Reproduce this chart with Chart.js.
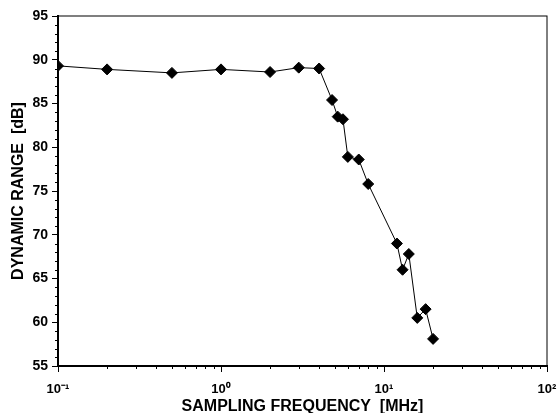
<!DOCTYPE html>
<html>
<head>
<meta charset="utf-8">
<script src="https://cdn.jsdelivr.net/npm/chart.js@4"></script>
<style>
  body { margin: 0; background: #fff; }
  #wrap { width: 557px; height: 413px; }
</style>
</head>
<body>
<div id="wrap"><canvas id="myChart"></canvas></div>
<script>
const freqs = [0.1, 0.2, 0.5, 1, 2, 3, 4, 4.8, 5.2, 5.6, 6, 7, 8, 12, 13, 14.2, 16, 18, 20];
const dynRange = [89.3, 88.9, 88.5, 88.9, 88.6, 89.1, 89.0, 85.4, 83.5, 83.2, 78.9, 78.6, 75.8, 69.0, 66.0, 67.8, 60.5, 61.5, 58.1];
const xMajor = [0.1, 1, 10, 100];
const xLabels = { 0.1: "10\u207B\u00B9", 1: "10\u2070", 10: "10\u00B9", 100: "10\u00B2" };

const fontFamily = "'Liberation Sans', Arial, sans-serif";

// minor ticks and frame, drawn from the scales
const framePlugin = {
  id: "frame",
  afterDraw(chart) {
    const c = chart.ctx;
    const area = chart.chartArea;
    const xs = chart.scales.x;
    const ys = chart.scales.y;
    c.save();
    c.strokeStyle = "#000";
    c.lineWidth = 1;
    c.strokeRect(area.left, area.top, area.right - area.left, area.bottom - area.top);
    c.beginPath();
    for (let k = -1; k <= 1; k++) {
      for (let m = 2; m <= 9; m++) {
        const px = Math.round(xs.getPixelForValue(m * Math.pow(10, k))) + 0.5;
        c.moveTo(px, area.bottom);
        c.lineTo(px, area.bottom + 3);
      }
    }
    for (let v = 55; v <= 95; v++) {
      if (v % 5 === 0) continue;
      const py = Math.round(ys.getPixelForValue(v)) + 0.5;
      c.moveTo(area.left - 3, py);
      c.lineTo(area.left, py);
    }
    c.stroke();
    c.restore();
  },
};

const ctx = document.getElementById("myChart");
new Chart(ctx, {
  type: "line",
  data: {
    datasets: [
      {
        data: freqs.map((f, i) => ({ x: f, y: dynRange[i] })),
        borderColor: "#000",
        borderWidth: 1,
        backgroundColor: "#000",
        pointStyle: "rectRot",
        pointRadius: 5.5,
        pointBackgroundColor: "#000",
        pointBorderColor: "#000",
        tension: 0,
      },
    ],
  },
  options: {
    responsive: true,
    maintainAspectRatio: false,
    animation: false,
    layout: { padding: { top: 16, right: 10, left: 0, bottom: 0 } },
    plugins: {
      legend: { display: false },
      tooltip: { enabled: false },
    },
    scales: {
      x: {
        type: "logarithmic",
        min: 0.1,
        max: 100,
        afterBuildTicks: (scale) => {
          scale.ticks = xMajor.map((v) => ({ value: v, major: true }));
        },
        afterFit: (scale) => {
          scale.height = 47;
          scale.paddingRight = 0;
          scale.paddingLeft = 0;
        },
        ticks: {
          autoSkip: false,
          maxRotation: 0,
          padding: 10,
          color: "#000",
          font: { family: fontFamily, size: 13, weight: "bold" },
          callback: (v) => xLabels[v] || "",
        },
        grid: {
          drawOnChartArea: false,
          tickLength: 6,
          color: "#000",
          lineWidth: 1,
        },
        border: { color: "#000", width: 2 },
        title: {
          display: true,
          text: "SAMPLING FREQUENCY  [MHz]",
          color: "#000",
          font: { family: fontFamily, size: 16, weight: "bold", lineHeight: 1 },
          padding: { top: 0, bottom: -2 },
        },
      },
      y: {
        min: 55,
        max: 95,
        afterFit: (scale) => {
          scale.width = 58;
        },
        ticks: {
          stepSize: 5,
          padding: 4,
          color: "#000",
          font: { family: fontFamily, size: 14, weight: "bold" },
        },
        grid: {
          drawOnChartArea: false,
          tickLength: 6,
          color: "#000",
          lineWidth: 1,
        },
        border: { color: "#000", width: 2 },
        title: {
          display: true,
          text: "DYNAMIC RANGE  [dB]",
          color: "#000",
          font: { family: fontFamily, size: 16, weight: "bold" },
          padding: { top: 9, bottom: 0 },
        },
      },
    },
  },
  plugins: [framePlugin],
});
</script>
</body>
</html>
